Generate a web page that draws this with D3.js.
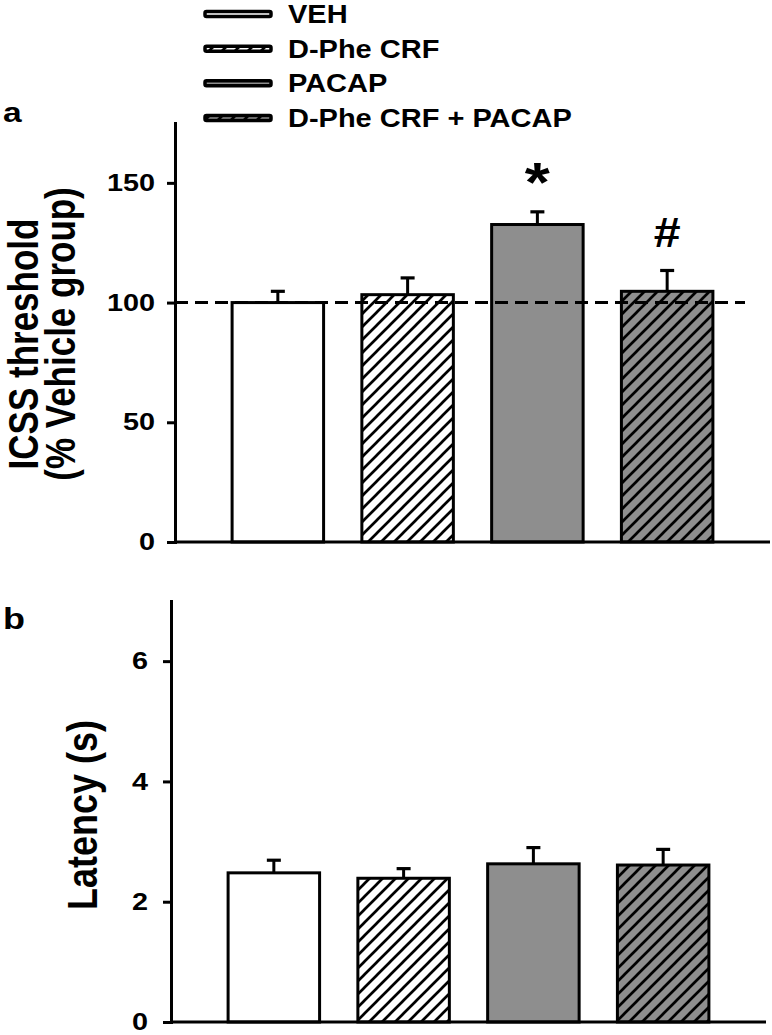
<!DOCTYPE html>
<html><head><meta charset="utf-8">
<script src="https://cdn.jsdelivr.net/npm/d3@7"></script>
<style>
body{margin:0;background:#fff}
svg{display:block}
text{font-family:"Liberation Sans",Arial,Helvetica,sans-serif;font-weight:bold;fill:#000}
</style>
</head><body>
<svg id="chart" width="772" height="1035"></svg>
<script>
// ---- data ----
const groups = ["VEH", "D-Phe CRF", "PACAP", "D-Phe CRF + PACAP"];
const icssMean = [100, 103.3, 132.6, 104.7];
const icssSem = [4.7, 7.0, 5.3, 8.7];
const icssMarks = ["", "", "*", "#"];
const latencyMean = [2.48, 2.39, 2.63, 2.61];
const latencySem = [0.21, 0.16, 0.27, 0.26];
const icssTicks = [0, 50, 100, 150];
const latencyTicks = [0, 2, 4, 6];
const icssMax = 175;
const latencyMax = 7;
const referenceLevel = 100;

// ---- drawing ----
const svg = d3.select("#chart");
const defs = svg.append("defs");
const GRAY = "#8e8e8e";
function hatch(id, bg) {
  const s = 13;
  const p = defs.append("pattern").attr("id", id)
    .attr("patternUnits", "userSpaceOnUse").attr("width", s).attr("height", s);
  p.append("rect").attr("width", s).attr("height", s).attr("fill", bg);
  p.append("path").attr("d", `M-3,3L3,-3M0,${s}L${s},0M${s-3},${s+3}L${s+3},${s-3}`)
    .attr("stroke", "#000").attr("stroke-width", 2.7);
}
hatch("hatchWhite", "#fff");
hatch("hatchGray", GRAY);
function fillFor(i) {
  return ["#fff", "url(#hatchWhite)", GRAY, "url(#hatchGray)"][i];
}

function stretchText(sel, sx) {
  sel.each(function () {
    const t = d3.select(this);
    const x = +t.attr("x") || 0;
    t.attr("x", x / sx).attr("transform", `scale(${sx},1)`);
  });
}

function panel(cfg) {
  const y = d3.scaleLinear().domain([0, cfg.max]).range([cfg.y0, cfg.yTop]);
  const x = d3.scaleBand().domain(groups).range([cfg.axisX, cfg.xEnd])
    .paddingInner(0.295).paddingOuter(0.44);
  const g = svg.append("g");

  // bars
  g.selectAll("rect.bar").data(groups).join("rect").attr("class", "bar")
    .attr("x", d => x(d)).attr("width", x.bandwidth())
    .attr("y", (d, i) => y(cfg.means[i]))
    .attr("height", (d, i) => y(0) - y(cfg.means[i]))
    .attr("fill", (d, i) => fillFor(i))
    .attr("stroke", "#000").attr("stroke-width", 3);

  // error bars
  const eb = g.selectAll("g.err").data(groups).join("g").attr("class", "err");
  eb.append("line")
    .attr("x1", d => x(d) + x.bandwidth() / 2).attr("x2", d => x(d) + x.bandwidth() / 2)
    .attr("y1", (d, i) => y(cfg.means[i])).attr("y2", (d, i) => y(cfg.means[i] + cfg.sems[i]))
    .attr("stroke", "#000").attr("stroke-width", 3);
  eb.append("line")
    .attr("x1", d => x(d) + x.bandwidth() / 2 - 7).attr("x2", d => x(d) + x.bandwidth() / 2 + 7)
    .attr("y1", (d, i) => y(cfg.means[i] + cfg.sems[i])).attr("y2", (d, i) => y(cfg.means[i] + cfg.sems[i]))
    .attr("stroke", "#000").attr("stroke-width", 3.2);

  // reference line
  if (cfg.ref != null) {
    g.append("line")
      .attr("x1", cfg.axisX).attr("x2", x.range()[1] - 25)
      .attr("y1", y(cfg.ref)).attr("y2", y(cfg.ref))
      .attr("stroke", "#000").attr("stroke-width", 3).attr("stroke-dasharray", "13,7");
  }

  // significance marks
  if (cfg.marks) {
    groups.forEach((d, i) => {
      const m = cfg.marks[i];
      if (!m) return;
      const top = y(cfg.means[i] + cfg.sems[i]);
      const t = g.append("text").attr("text-anchor", "middle").text(m);
      if (m === "*") t.attr("font-size", 56).attr("x", x(d) + x.bandwidth() / 2).attr("y", top - 11);
      else t.attr("font-size", 42).attr("x", x(d) + x.bandwidth() / 2).attr("y", top - 23);
      stretchText(t, 1.15);
    });
  }

  // x axis line
  g.append("line").attr("x1", x.range()[0]).attr("x2", x.range()[1])
    .attr("y1", y(0)).attr("y2", y(0)).attr("stroke", "#000").attr("stroke-width", 3);

  // y axis
  const ga = g.append("g").attr("transform", `translate(${cfg.axisX},0)`)
    .call(d3.axisLeft(y).tickValues(cfg.ticks).tickFormat(d3.format("d"))
      .tickSize(8).tickSizeOuter(0).tickPadding(cfg.pad));
  ga.selectAll("path,line").attr("stroke", "#000").attr("stroke-width", 3);
  ga.select(".domain").attr("stroke-linecap", "square");
  ga.selectAll("text").attr("font-size", 24).attr("font-weight", "bold")
    .attr("font-family", '"Liberation Sans",Arial,sans-serif').attr("fill", "#000");
  stretchText(ga.selectAll("text"), 1.2);

  return { x, y };
}

panel({ axisX: 175, xEnd: 770, y0: 542, yTop: 123, max: icssMax, ticks: icssTicks,
        means: icssMean, sems: icssSem, marks: icssMarks, ref: referenceLevel, pad: 12 });
panel({ axisX: 171, xEnd: 766, y0: 1022, yTop: 601, max: latencyMax, ticks: latencyTicks,
        means: latencyMean, sems: latencySem, marks: null, ref: null, pad: 15 });

// axis titles
function vTitle(txt, x, y, size) {
  svg.append("text").attr("text-anchor", "middle").attr("font-size", size)
    .attr("transform", `translate(${x},${y}) scale(1.2,1) rotate(-90)`).text(txt);
}
vTitle("ICSS threshold", 38, 344, 35);
vTitle("(% Vehicle group)", 75, 334, 35);
vTitle("Latency (s)", 97, 815, 36);

// panel labels
const la = svg.append("text").attr("x", 3).attr("y", 122).attr("font-size", 28).text("a");
stretchText(la, 1.2);
const lb = svg.append("text").attr("x", 3).attr("y", 629).attr("font-size", 30).text("b");
stretchText(lb, 1.2);

// legend
const legendY = d3.scalePoint().domain(groups).range([14, 118]);
const lg = svg.append("g");
groups.forEach((d, i) => {
  lg.append("rect").attr("x", 205).attr("y", legendY(d) - 2.5).attr("width", 66).attr("height", 5)
    .attr("fill", fillFor(i)).attr("stroke", "#000").attr("stroke-width", 3.5).attr("rx", 1.5);
  const t = lg.append("text").attr("x", 288).attr("y", legendY(d)).attr("dy", "0.36em")
    .attr("font-size", 25).text(d);
  stretchText(t, 1.16);
});
</script>
</body></html>
